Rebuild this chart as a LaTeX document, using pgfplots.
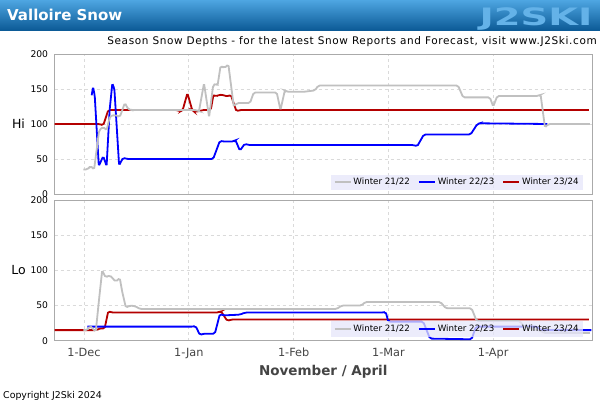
\documentclass[border=0pt]{standalone}
\usepackage{fontspec}
\setmainfont{DejaVu Sans}
\newfontfamily\widefont[LetterSpace=6]{DejaVu Sans}
\usepackage{pgfplots}
\pgfplotsset{compat=1.18}
\definecolor{hdrtop}{RGB}{78,166,226}
\definecolor{hdrbot}{RGB}{10,88,148}
\definecolor{logoblue}{RGB}{100,178,232}
\definecolor{gridgray}{RGB}{218,218,218}
\definecolor{framegray}{RGB}{170,170,170}
\definecolor{legfill}{RGB}{230,230,250}
\definecolor{sgray}{RGB}{192,192,192}
\definecolor{sblue}{RGB}{0,0,255}
\definecolor{sred}{RGB}{180,0,0}
\definecolor{txtgray}{RGB}{68,68,68}
\pgfplotsset{
  snow/.style={
    scale only axis, width=537.5bp,
    xmin=-8.7, xmax=150.2, ymin=0, ymax=200,
    ytick={0,50,100,150,200},
    xtick={0,31,62,90,121},
    grid=major,
    major grid style={color=gridgray, dash pattern=on 3bp off 3bp, line width=0.6bp},
    axis line style={color=framegray, line width=0.9bp},
    major tick length=0pt,
    /pgf/number format/assume math mode=true,
    yticklabel style={font=\fontsize{9.2bp}{11bp}\selectfont, inner sep=0pt, xshift=-6.2bp, anchor=east},
    xticklabel style={font=\fontsize{11.3bp}{13bp}\selectfont, color=txtgray, inner sep=0pt, anchor=north, yshift=-7bp},
    every axis y label/.style={at={(rel axis cs:0,0.5)}, anchor=center, xshift=-36bp, font=\fontsize{12.5bp}{14bp}\selectfont},
    legend columns=3,
    reverse legend,
    legend cell align=left,
    legend style={at={(1,0)}, anchor=south east, xshift=-8.7bp, yshift=4bp,
      fill=legfill, fill opacity=0.75, text opacity=1, draw=none, font=\fontsize{8.7bp}{10bp}\selectfont,
      inner xsep=2.5bp, inner ysep=1.5bp,
      /tikz/every even column/.append style={column sep=6bp}},
    legend image code/.code={\draw[#1, draw opacity=1] (0bp,0bp) -- (16bp,0bp);},
  },
  pl/.style={line width=1.8bp, sharp plot, rounded corners=1.6bp},
}
\begin{document}
\begin{tikzpicture}
\fill[white] (0,0) rectangle (600bp,400bp);
\path[use as bounding box] (0,0) rectangle (600bp,400bp);
\shade[top color=hdrtop, bottom color=hdrbot] (0,369bp) rectangle (600bp,400bp);
\node[anchor=base west, inner sep=0pt, text=white, font=\fontsize{15bp}{18bp}\selectfont\bfseries] at (7bp,379bp) {Valloire Snow};
\node[anchor=base, inner sep=0pt, text=logoblue, font=\fontsize{24bp}{24bp}\selectfont\bfseries, xscale=1.6] at (536bp,374.5bp) {J2SKI};
\node[anchor=base east, inner sep=0pt, font=\widefont\fontsize{10.5bp}{12bp}\selectfont] at (597bp,355bp) {Season Snow Depths - for the latest Snow Reports and Forecast, visit www.J2Ski.com};
\node[anchor=base west, inner sep=0pt, font=\fontsize{9.4bp}{10bp}\selectfont] at (3bp,2bp) {Copyright J2Ski 2024};
\node[anchor=base, inner sep=0pt, text=txtgray, font=\fontsize{13.5bp}{16bp}\selectfont\bfseries] at (323.25bp,25bp) {November / April};

% ---------- Hi ----------
\begin{axis}[snow, height=140bp, at={(54.5bp,206bp)}, anchor=south west,
  xticklabel=\empty, ylabel={Hi}]
\addplot[pl, sred] coordinates {
(-8.7,100) (3.5,100) (4.7,100) (5.7,98) (7.2,120) (27.5,120) (28.5,118) (29.2,120)
(30.6,144) (32,120) (32.5,118) (34,118) (35,120) (37.5,120) (38.3,142) (39,139)
(40,142) (41.5,141) (42.5,139) (43.4,142) (45.1,118) (46,120) (149.3,120)};
\addlegendentry{Winter 23/24}
\addplot[pl, sblue] coordinates {
(2.3,141) (2.7,153) (3.2,140) (4.4,40) (5.7,54) (6.7,40) (7.6,120) (8.4,158) (9,150)
(10.4,41) (11.6,52) (12.6,50) (38.2,50) (40.2,76) (41,75) (44.3,75) (44.8,77)
(46.1,62) (47.6,72) (48.5,70) (97.5,70) (98.5,68) (100.5,85) (114.3,85) (116.3,100)
(117,101) (137,100)};
\addlegendentry{Winter 22/23}
\addplot[pl, sgray] coordinates {
(-0.2,35) (1,35) (2,40) (3,35) (4.5,91) (5.7,96) (6.7,91) (7.7,111) (9.2,113)
(10.6,110) (12.1,130) (13.1,121) (14,120) (33.3,120) (34,118) (35.5,158) (37,110)
(38.2,155) (39,158) (39.5,155) (40.4,183) (41.5,180) (42.7,185) (44.3,125) (45.3,130)
(49.1,130) (50.2,145) (57,145) (58.1,120) (59.4,148) (60,146) (65,146) (68.3,148)
(69.3,155) (110.6,155) (112.1,138) (120,138) (121,125) (122.2,140) (134.3,140)
(135,142) (136.3,95) (137.3,100) (149.6,100)};
\addlegendentry{Winter 21/22}
\end{axis}

% ---------- Lo ----------
\begin{axis}[snow, height=140.7bp, at={(54.5bp,59.3bp)}, anchor=south west,
  xticklabels={1-Dec,1-Jan,1-Feb,1-Mar,1-Apr}, ylabel={Lo}]
\addplot[pl, sred] coordinates {
(-8.7,15) (3.7,15) (5,18) (6.1,17) (7.2,42) (8.2,40) (39.7,40) (40.5,42) (42.4,28)
(43.4,30) (149.3,30)};
\addlegendentry{Winter 23/24}
\addplot[pl, sblue] coordinates {
(1,20) (32.3,20) (33,21) (34.3,8) (35.3,10) (38.7,10) (40.2,38) (41.2,36) (46.1,37)
(47.6,40) (88.5,40) (89.2,41) (90,27) (100.3,27) (102.3,3) (114.6,2) (115.9,20)
(134,20) (135,15) (150,15)};
\addlegendentry{Winter 22/23}
\addplot[pl, sgray] coordinates {
(-0.2,15) (1,15) (1.8,21) (2.6,17) (3.5,13) (4.5,60) (5.4,100) (6.4,90) (7.7,93)
(8.6,88) (9.4,84) (10.6,89) (11.3,70) (12.4,47) (13.6,50) (15.2,49) (16.6,45)
(74.7,45) (76.2,50) (82.1,50) (83.1,55) (105.4,55) (107,46) (114.6,46) (116.1,28)
(128.9,28) (130,20) (135,14) (136,11) (149.6,11)};
\addlegendentry{Winter 21/22}
\end{axis}
\end{tikzpicture}
\end{document}
